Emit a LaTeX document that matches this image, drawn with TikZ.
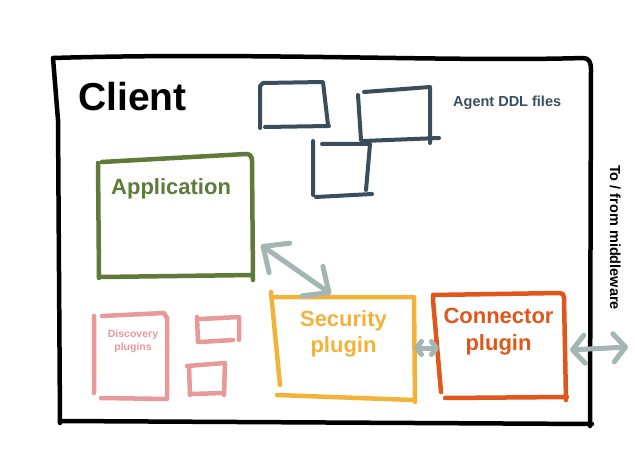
\documentclass[tikz,border=0pt]{standalone}
\usepackage{fontspec}
\setmainfont{Liberation Sans}
\usetikzlibrary{arrows.meta}
\definecolor{slate}{HTML}{3A4D5C}
\definecolor{moss}{HTML}{5E7B39}
\definecolor{rose}{HTML}{E8999A}
\definecolor{amber}{HTML}{F2B33A}
\definecolor{rust}{HTML}{E0561B}
\definecolor{fog}{HTML}{A3B6B4}
\tikzset{every node/.style={inner sep=0pt},
  txt/.style 2 args={font=\fontsize{#1}{#2}\selectfont\bfseries},
  pen/.style={line width=#1, line cap=round, line join=round},
  link/.style={draw=fog, pen=5pt},
  bigtip/.style={{Straight Barb[round,length=20pt,width=36pt]}-{Straight Barb[round,length=20pt,width=36pt]}},
  midtip/.style={{Straight Barb[round,length=12pt,width=28pt]}-{Straight Barb[round,length=12pt,width=28pt]}},
  smalltip/.style={{Straight Barb[round,length=5pt,width=13pt]}-{Straight Barb[round,length=5pt,width=13pt]}}}

\begin{document}
\begin{tikzpicture}[x=1pt,y=-1pt]
    \useasboundingbox (0,0) rectangle (635,476);

    \draw[pen=4.5pt] (60,423) -- (58,120) -- (53,58) .. controls (250,52) and (450,62) .. (583,58)
        .. controls (589,58) and (591,62) .. (591,70) -- (590,426);
    \draw[pen=4.5pt] (60,421) -- (592,424);
    \node[txt={39}{39}, anchor=base west] (client) at (78,111) {Client};

    \draw[slate, pen=4pt] (260,128) -- (260,86) -- (263,83) -- (323,82) -- (328,125) (265,127) -- (329,126);
    \draw[slate, pen=4pt] (358,95) -- (361,140) (364,92) -- (430,87) -- (430,143) (363,141) -- (439,138);
    \draw[slate, pen=4pt] (322,144) -- (370,144) -- (366,190) (313,141) -- (313,195) (316,197) -- (372,194);
    \node[txt={14.5}{15}, slate, anchor=base west] (ddl) at (453,107) {Agent DDL files};

    \draw[moss, pen=4.5pt] (98,163) -- (99,278) (102,162) -- (246,154) .. controls (250,154) and (252,156) .. (252,161) -- (253,280) (101,277) -- (253,275);
    \node[txt={22}{22}, moss, anchor=base west] (app) at (111,194) {Application};

    \draw[rose, pen=4.5pt] (94,316) -- (94,393) (102,316) -- (164,313) -- (167,318) -- (167,399) (101,398) -- (167,399);
    \draw[rose, pen=4.5pt] (201,319) -- (239,317) -- (239,340) (197,317) -- (198,342) (200,342) -- (233,340);
    \draw[rose, pen=4.5pt] (187,366) -- (225,363) -- (224,395) (189,366) -- (190,395) (191,394) -- (224,393);
    \node[txt={10.5}{13.3}, rose, align=center, anchor=north] (disc) at (133,329.5) {Discovery\\plugins};

    \draw[amber, pen=4.5pt] (271,292) -- (280,385) (275,297) -- (414,297) -- (415,402) (277,395) -- (413,400);
    \node[txt={22}{26}, amber, align=center, anchor=north] (sec) at (343.5,310.7) {Security\\plugin};

    \draw[rust, pen=4.5pt] (441,392) -- (433,300) -- (433,295) -- (560,293) .. controls (563,293) and (564,295) .. (564,298) -- (566,400) (445,398) -- (567,397);
    \node[txt={22}{27}, rust, align=center, anchor=north] (con) at (498.5,307.8) {Connector\\plugin};

    \node[txt={14.5}{15}, rotate=-90, anchor=base west] (mw) at (610,165) {To / from middleware};

    \coordinate (appIn) at (261,245);
    \coordinate (secIn) at (331,294);
    \coordinate (secOut) at (414,348);
    \coordinate (conIn) at (439,348);
    \coordinate (conOut) at (570,350);
    \coordinate (mwEnd) at (628,347);
    \draw[link, bigtip] (appIn) -- (secIn);
    \draw[link, smalltip] (secOut) -- (conIn);
    \draw[link, midtip] (conOut) -- (mwEnd);
\end{tikzpicture}
\end{document}
